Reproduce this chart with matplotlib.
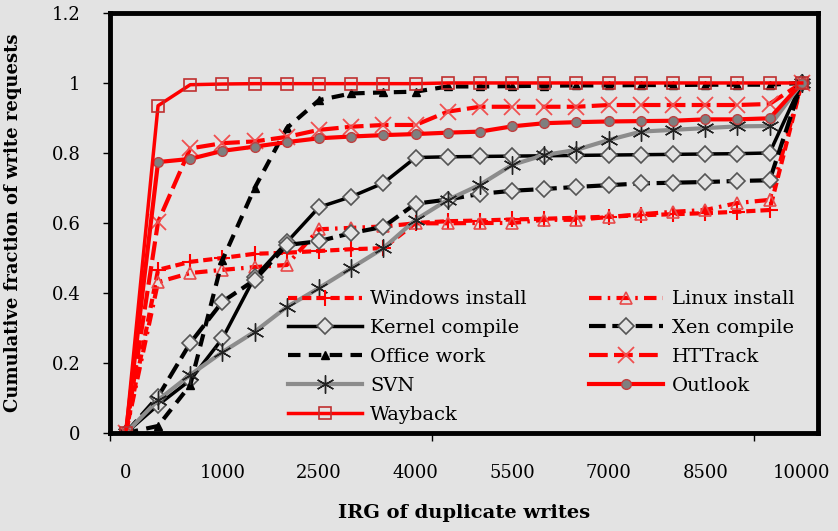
import numpy as np
import matplotlib
matplotlib.use("Agg")
from matplotlib import pyplot as plt

# x positions are categories 0..21, only every 3rd one is labelled
n_points = 22
tick_labels = ["0", "1000", "2500", "4000", "5500", "7000", "8500", "10000"]

windows = [0, 0.466, 0.489, 0.500, 0.512, 0.515, 0.520, 0.525, 0.528, 0.600, 0.605,
           0.607, 0.610, 0.612, 0.615, 0.618, 0.622, 0.625, 0.628, 0.632, 0.637, 1.0]
linux = [0, 0.431, 0.457, 0.466, 0.474, 0.480, 0.582, 0.586, 0.590, 0.599, 0.599,
         0.600, 0.600, 0.609, 0.609, 0.617, 0.625, 0.632, 0.637, 0.657, 0.666, 1.0]
kernel = [0, 0.080, 0.151, 0.270, 0.445, 0.545, 0.645, 0.675, 0.714, 0.787, 0.789,
          0.790, 0.791, 0.792, 0.793, 0.794, 0.795, 0.796, 0.797, 0.798, 0.800, 1.0]
xen = [0, 0.104, 0.257, 0.375, 0.437, 0.537, 0.548, 0.571, 0.589, 0.655, 0.667,
       0.683, 0.692, 0.697, 0.703, 0.708, 0.713, 0.715, 0.717, 0.720, 0.722, 1.0]
office = [0, 0.020, 0.137, 0.494, 0.700, 0.871, 0.951, 0.970, 0.973, 0.975, 0.990,
          0.990, 0.991, 0.992, 0.993, 0.993, 0.994, 0.994, 0.995, 0.995, 0.995, 1.0]
httrack = [0, 0.603, 0.813, 0.828, 0.833, 0.846, 0.866, 0.875, 0.880, 0.880, 0.918,
           0.932, 0.932, 0.932, 0.932, 0.937, 0.937, 0.937, 0.937, 0.937, 0.940, 1.0]
svn = [0, 0.094, 0.166, 0.231, 0.289, 0.360, 0.414, 0.471, 0.528, 0.609, 0.666,
       0.709, 0.766, 0.794, 0.809, 0.837, 0.861, 0.866, 0.871, 0.876, 0.877, 1.0]
outlook = [0, 0.774, 0.783, 0.806, 0.818, 0.831, 0.842, 0.847, 0.851, 0.854, 0.858,
           0.861, 0.876, 0.885, 0.888, 0.890, 0.891, 0.892, 0.896, 0.896, 0.899, 1.0]
wayback = [0, 0.935, 0.995, 0.997, 0.998, 0.998, 0.998, 0.998, 0.998, 0.998, 1.0,
           1.0, 1.0, 1.0, 1.0, 1.0, 1.0, 1.0, 1.0, 1.0, 1.0, 1.0]

x = np.arange(n_points)
bg = "#e3e3e3"
plt.rcParams['font.family'] = ['DejaVu Serif']

fig = plt.figure(figsize=(8.38, 5.31), dpi=100, facecolor=bg)
ax = fig.add_axes([0.131, 0.1846, 0.845, 0.791])
ax.set_facecolor(bg)

h = {}
h['win'], = ax.plot(x, windows, color="red", lw=3, dashes=(2.2, 1.2),
                    marker="+", ms=12, mew=1.5, mec="red", label="Windows install")
h['lin'], = ax.plot(x, linux, color="red", lw=3, dashes=(3, 1.5, 0.6, 1.5),
                    marker="^", ms=9, mfc="none", mec="#e84a4a", mew=1.2,
                    label="Linux install")
h['ker'], = ax.plot(x, kernel, color="black", lw=2.5, marker="D", ms=8,
                    mfc=bg, mec="#555555", mew=1.2, label="Kernel compile")
h['xen'], = ax.plot(x, xen, color="black", lw=3, dashes=(4, 1.6), marker="D", ms=8,
                    mfc=bg, mec="#555555", mew=1.2, label="Xen compile")
h['off'], = ax.plot(x, office, color="black", lw=3, dashes=(3, 2), marker="^",
                    ms=6, mfc="black", mec="black", label="Office work")
h['htt'], = ax.plot(x, httrack, color="red", lw=3, dashes=(4.5, 1.5), marker="x",
                    ms=12, mec="#f05050", mew=1.3, label="HTTrack")
h['svn'], = ax.plot(x, svn, color="#8c8c8c", lw=3, marker=(6, 2, 0), ms=13,
                    mec="#222222", mew=1.0, label="SVN")
h['out'], = ax.plot(x, outlook, color="red", lw=3, marker="o", ms=7,
                    mfc="#7f7f7f", mec="#c04040", mew=1.0, label="Outlook")
h['way'], = ax.plot(x, wayback, color="red", lw=2.5, marker="s", ms=9,
                    mfc="none", mec="#c03030", mew=1.2, label="Wayback")

ax.set_xlim(-0.5, n_points - 0.5)
ax.set_ylim(0, 1.2)
ax.set_xticks(x[::3])
ax.set_xticklabels(tick_labels)
ax.set_xticks([-0.5, 9.5, 19.5], minor=True)
ax.tick_params(axis="x", which="major", length=0, pad=22, labelsize=13)
ax.tick_params(axis="x", which="minor", length=6, width=1, direction="out")
ax.set_yticks(np.arange(0, 1.21, 0.2))
ax.set_yticklabels(["0", "0.2", "0.4", "0.6", "0.8", "1", "1.2"])
ax.tick_params(axis="y", length=5, width=1, pad=16, labelsize=13)

for s in ax.spines.values():
    s.set_linewidth(3.5)
    s.set_color("black")

ax.set_ylabel("Cumulative fraction of write requests", fontsize=13, fontweight="bold")
ax.yaxis.set_label_coords(-0.124, 0.5)
ax.set_xlabel("IRG of duplicate writes", fontsize=14, fontweight="bold")
ax.xaxis.set_label_coords(0.5, -0.17)

order = ['win', 'ker', 'off', 'svn', 'way', 'lin', 'xen', 'htt', 'out']
leg = ax.legend([h[k] for k in order], [h[k].get_label() for k in order],
                ncol=2, loc="upper left", bbox_to_anchor=(0.232, 0.372),
                frameon=False, fontsize=14, handlelength=3.8,
                columnspacing=3.2, labelspacing=0.56, handletextpad=0.45,
                borderpad=0.2)

fig.savefig("out.png", dpi=100, facecolor=bg)
